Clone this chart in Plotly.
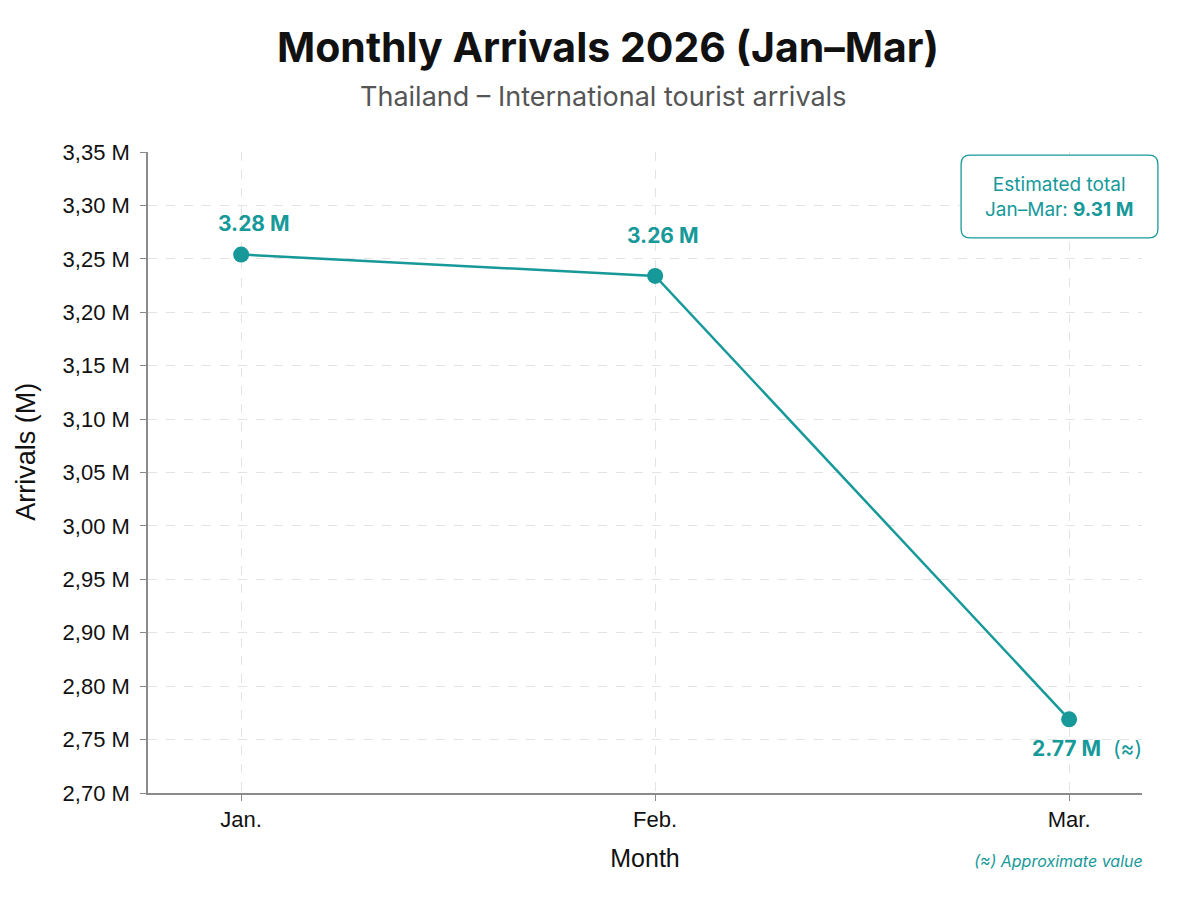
import plotly.graph_objects as go

# data
months = ["Jan.", "Feb.", "Mar."]
arrivals_plotted = [3.254, 3.234, 2.819]  # where the markers sit on the axis
arrival_labels = ["3.28 M", "3.26 M", "2.77 M"]
approx_flags = [False, False, True]
label_shift = [31, 40, -29]
label_xshift = [13, 8, 18]

tick_vals = [3.35, 3.30, 3.25, 3.20, 3.15, 3.10, 3.05, 3.00, 2.95, 2.90, 2.85, 2.80, 2.75]
tick_text = ["3,35 M", "3,30 M", "3,25 M", "3,20 M", "3,15 M", "3,10 M", "3,05 M",
             "3,00 M", "2,95 M", "2,90 M", "2,80 M", "2,75 M", "2,70 M"]

total_label = "9.31 M"

teal = "#17999a"

fig = go.Figure()
fig.add_trace(
    go.Scatter(
        x=months,
        y=arrivals_plotted,
        mode="lines+markers",
        line=dict(color=teal, width=2.5),
        marker=dict(color=teal, size=16),
        showlegend=False,
        hoverinfo="skip",
    )
)

for m, v, lab, approx, shift, xs in zip(months, arrivals_plotted, arrival_labels,
                                        approx_flags, label_shift, label_xshift):
    txt = "<b>" + lab + "</b>"
    if approx:
        txt += "  (≈)"
    fig.add_annotation(
        x=m, y=v, text=txt, showarrow=False, yshift=shift, xshift=xs,
        font=dict(family="Inter", size=21, color=teal),
    )

# rounded box for the total
x0, x1, y0, y1 = 0.818, 1.016, 0.866, 0.995
rx, ry = 0.009, 0.014
path = (
    f"M {x0 + rx},{y1} L {x1 - rx},{y1} Q {x1},{y1} {x1},{y1 - ry} "
    f"L {x1},{y0 + ry} Q {x1},{y0} {x1 - rx},{y0} "
    f"L {x0 + rx},{y0} Q {x0},{y0} {x0},{y0 + ry} "
    f"L {x0},{y1 - ry} Q {x0},{y1} {x0 + rx},{y1} Z"
)
fig.add_shape(type="path", path=path, xref="paper", yref="paper",
              fillcolor="white", line=dict(color=teal, width=1.3), layer="above")
fig.add_annotation(
    x=(x0 + x1) / 2, y=(y0 + y1) / 2, xref="paper", yref="paper",
    xanchor="center", yanchor="middle",
    text="Estimated total<br>Jan–Mar: <b>" + total_label + "</b>",
    showarrow=False, align="center",
    font=dict(family="Inter", size=19, color=teal),
)

# subtitle
fig.add_annotation(
    x=0.458, y=1.087, xref="paper", yref="paper", xanchor="center", yanchor="middle",
    text="Thailand – International tourist arrivals", showarrow=False,
    font=dict(family="Inter", size=27, color="#555555"),
)

# y axis title
fig.add_annotation(
    x=-0.123, y=0.532, xref="paper", yref="paper", xanchor="center", yanchor="middle",
    text="Arrivals (M)", textangle=-90, showarrow=False,
    font=dict(family="Liberation Sans", size=27, color="#111111"),
)

fig.add_annotation(
    x=1.003, y=-0.106, xref="paper", yref="paper", xanchor="right", yanchor="middle",
    text="<i>(≈) Approximate value</i>", showarrow=False,
    font=dict(family="Inter", size=16, color=teal),
)

fig.update_layout(
    width=1200,
    height=900,
    paper_bgcolor="white",
    plot_bgcolor="white",
    margin=dict(l=140, r=66, t=144, b=115),
    title=dict(
        text="<b>Monthly Arrivals 2026 (Jan–Mar)</b>",
        x=0.5, xanchor="center", xref="container",
        y=1 - 40 / 900, yanchor="middle", yref="container",
        font=dict(family="Inter", size=41, color="#111111"),
    ),
    font=dict(family="Inter", color="#111111"),
    xaxis=dict(
        type="category",
        range=[-0.225, 2.176],
        showline=True, linecolor="#8a8a8a", linewidth=1.5,
        ticks="outside", tickcolor="#8a8a8a", ticklen=6,
        showgrid=True, gridcolor="#e3e3e3", griddash="dash", gridwidth=1,
        tickfont=dict(family="Liberation Sans", size=22, color="#111111"),
        title=dict(text="Month", font=dict(family="Liberation Sans", size=25, color="#111111"), standoff=18),
        zeroline=False,
    ),
    yaxis=dict(
        range=[2.75, 3.35],
        tickvals=tick_vals,
        ticktext=tick_text,
        showline=True, linecolor="#8a8a8a", linewidth=1.5,
        ticks="outside", tickcolor="#8a8a8a", ticklen=6,
        ticklabelstandoff=6,
        showgrid=True, gridcolor="#e3e3e3", griddash="dash", gridwidth=1,
        tickfont=dict(family="Liberation Sans", size=22, color="#111111"),
        zeroline=False,
    ),
)

fig.write_html("out.html")
